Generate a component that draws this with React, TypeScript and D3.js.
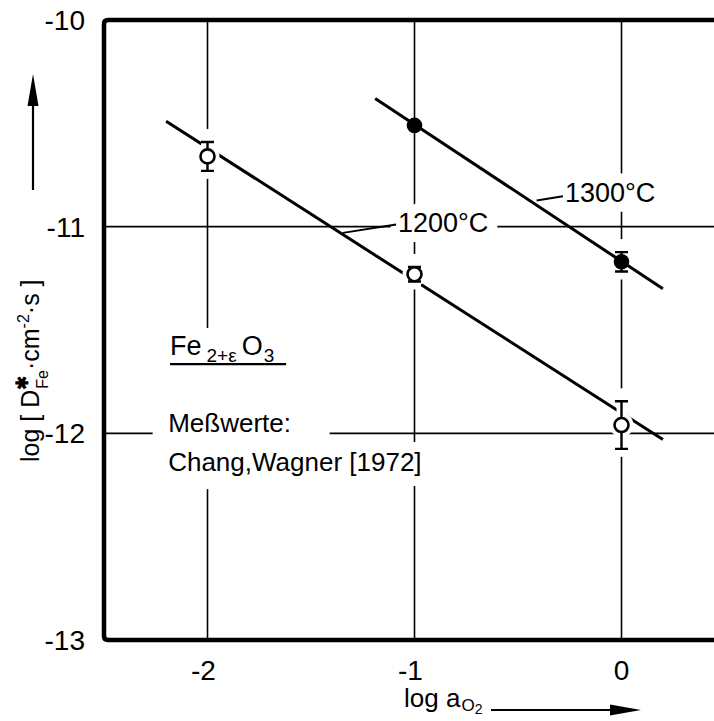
import React from "react";
import * as d3 from "d3";

// ---- data ----
const X_TICKS = [-2, -1, 0];
const Y_TICKS = [-10, -11, -12, -13];
const X_GRID = [-2, -1, 0];
const Y_GRID = [-11, -12];

const A_1200 = [-2, -1, 0];
const D_1200 = [-10.66, -11.23, -11.96];
const E_1200 = [0.07, 0.035, 0.115];

const A_1300 = [-1, 0];
const D_1300 = [-10.51, -11.17];
const E_1300 = [0, 0.047];

const FIT_1200_X = [-2.2, 0.2];
const FIT_1200_Y = [-10.49, -12.03];
const FIT_1300_X = [-1.19, 0.2];
const FIT_1300_Y = [-10.38, -11.3];

const LABEL_1200 = "1200°C";
const LABEL_1300 = "1300°C";
const SOURCE = "Chang,Wagner [1972]";

const W = 714;
const H = 721;
const FONT = "'Liberation Sans', Arial, sans-serif";

export default function App() {
  const x = d3.scaleLinear().domain([-2.5, 0.5]).range([104, 725]);
  const y = d3.scaleLinear().domain([-13, -10]).range([640, 20]);
  const line = d3
    .line<[number, number]>()
    .x((d) => x(d[0]))
    .y((d) => y(d[1]));

  const fit1200: [number, number][] = FIT_1200_X.map((v, i) => [v, FIT_1200_Y[i]]);
  const fit1300: [number, number][] = FIT_1300_X.map((v, i) => [v, FIT_1300_Y[i]]);

  const open = A_1200.map((a, i) => ({ a, d: D_1200[i], e: E_1200[i] }));
  const filled = A_1300.map((a, i) => ({ a, d: D_1300[i], e: E_1300[i] }));
  const R = 7;
  const CAP = 6.5;

  const errPath = (p: { a: number; d: number; e: number }) => {
    const cx = x(p.a);
    const y1 = y(p.d + p.e);
    const y2 = y(p.d - p.e);
    return `M${cx},${y1}V${y2}M${cx - CAP},${y1}H${cx + CAP}M${cx - CAP},${y2}H${cx + CAP}`;
  };

  const x0 = x(-2.5);
  const x1 = x(0.5);

  return (
    <svg
      width={W}
      height={H}
      style={{ position: "absolute", left: 0, top: 0, background: "#fff" }}
      fontFamily={FONT}
    >
      <rect x={0} y={0} width={W} height={H} fill="#fff" />
      {/* grid */}
      <g stroke="#000" strokeWidth={1.6}>
        {X_GRID.map((v) => (
          <line key={"gx" + v} x1={x(v)} x2={x(v)} y1={y(-10)} y2={y(-13)} />
        ))}
        {Y_GRID.map((v) => (
          <line key={"gy" + v} x1={x0} x2={x1} y1={y(v)} y2={y(v)} />
        ))}
      </g>

      {/* knockouts: legend block and around error bars */}
      <g fill="#fff">
        <rect x={x(-2.265)} y={y(-11.49)} width={x(-1.41) - x(-2.265)} height={y(-12.27) - y(-11.49)} />
        {[...open, ...filled]
          .filter((p) => p.e > 0)
          .map((p, i) => (
            <rect
              key={"ko" + i}
              x={x(p.a) - 4}
              width={8}
              y={y(p.d + p.e) - 13}
              height={y(p.d - p.e) - y(p.d + p.e) + 21}
            />
          ))}
      </g>

      {/* text halos */}
      <g fill="#fff" stroke="#fff" strokeWidth={20} strokeLinejoin="round" fontSize={27}>
        <text x={x(-1.08)} y={y(-11.024)}>{LABEL_1200}</text>
        <text x={x(-0.273)} y={y(-10.879)}>{LABEL_1300}</text>
        <text x={x(-2.19)} y={y(-12.18)} fontSize={26}>{SOURCE}</text>
      </g>

      {/* fitted lines */}
      <g fill="none" stroke="#000" strokeWidth={3}>
        <path d={line(fit1200) || ""} />
        <path d={line(fit1300) || ""} />
      </g>

      {/* halos under open markers */}
      <g stroke="#fff" strokeWidth={10} fill="#fff">
        {open.map((p, i) => (
          <g key={"h" + i}>
            <path d={errPath(p)} />
            <circle cx={x(p.a)} cy={y(p.d)} r={R} />
          </g>
        ))}
      </g>

      {/* leaders */}
      <g stroke="#000" strokeWidth={2}>
        <line x1={x(-1.346)} y1={y(-11.03)} x2={x(-1.089)} y2={y(-10.989)} />
        <line x1={x(-0.41)} y1={y(-10.873)} x2={x(-0.283)} y2={y(-10.853)} />
      </g>

      {/* error bars & markers */}
      <g stroke="#000" strokeWidth={2.4} fill="none">
        {open.map((p, i) => (
          <g key={"o" + i}>
            <path d={errPath(p)} />
            <circle cx={x(p.a)} cy={y(p.d)} r={R} fill="#fff" strokeWidth={2.6} />
          </g>
        ))}
        {filled.map((p, i) => (
          <g key={"f" + i}>
            {p.e > 0 && <path d={errPath(p)} />}
            <circle cx={x(p.a)} cy={y(p.d)} r={7.8} fill="#000" stroke="none" />
          </g>
        ))}
      </g>

      {/* frame */}
      <path
        d={`M${x1},${y(-10)}H${x0 + 4}Q${x0},${y(-10)} ${x0},${y(-10) + 4}V${y(-13) - 4}Q${x0},${y(-13)} ${x0 + 4},${y(-13)}H${x1}`}
        fill="none"
        stroke="#000"
        strokeWidth={4.5}
      />

      {/* tick labels */}
      <g fontSize={28} fill="#000">
        {Y_TICKS.map((v) => (
          <text key={"yt" + v} x={85} y={y(v) + 10} textAnchor="end">
            {"-" + Math.abs(v)}
          </text>
        ))}
        {X_TICKS.map((v) => (
          <text key={"xt" + v} x={x(v) - (v < 0 ? 4 : 0)} y={680} textAnchor="middle">
            {v < 0 ? "-" + Math.abs(v) : String(v)}
          </text>
        ))}
      </g>

      {/* curve labels */}
      <g fontSize={27} fill="#000">
        <text x={x(-1.08)} y={y(-11.024)}>{LABEL_1200}</text>
        <text x={x(-0.273)} y={y(-10.879)}>{LABEL_1300}</text>
      </g>

      {/* legend block */}
      <g fill="#000">
        <text x={x(-2.181)} y={y(-11.621)} fontSize={27}>
          Fe
          <tspan dx={5} dy={7} fontSize={19}>2+ε</tspan>
          <tspan dx={5} dy={-7} fontSize={27}>O</tspan>
          <tspan dx={1} dy={7} fontSize={19}>3</tspan>
        </text>
        <line x1={x(-2.181)} x2={x(-1.62)} y1={y(-11.665)} y2={y(-11.665)} stroke="#000" strokeWidth={2.4} />
        <text x={x(-2.19)} y={y(-11.994)} fontSize={26}>Meßwerte:</text>
        <text x={x(-2.19)} y={y(-12.18)} fontSize={26}>{SOURCE}</text>
      </g>

      {/* y axis title */}
      <g transform="translate(39,462) rotate(-90)" fill="#000">
        <text x={0} y={0} fontSize={25}>
          log [ D
          <tspan dy={-11} fontSize={17} fontWeight="bold">✱</tspan>
          <tspan dx={-13} dy={20} fontSize={16}>Fe</tspan>
          <tspan dy={-9} fontSize={25}>·cm</tspan>
          <tspan dy={-10} fontSize={16}>-2</tspan>
          <tspan dy={10} fontSize={25}>·s ]</tspan>
        </text>
      </g>
      <line x1={33} x2={33} y1={190} y2={100} stroke="#000" strokeWidth={2.2} />
      <path d="M33,74 L27.5,106 L38.5,106 Z" fill="#000" />

      {/* x axis title */}
      <text x={404} y={707} fontSize={26} fill="#000">
        log a
        <tspan dx={1} dy={4} fontSize={17}>O</tspan>
        <tspan dy={3} fontSize={14}>2</tspan>
      </text>
      <line x1={491} x2={615} y1={710} y2={710} stroke="#000" strokeWidth={2.2} />
      <path d="M641,710 L610,704.5 L610,715.5 Z" fill="#000" />
    </svg>
  );
}
